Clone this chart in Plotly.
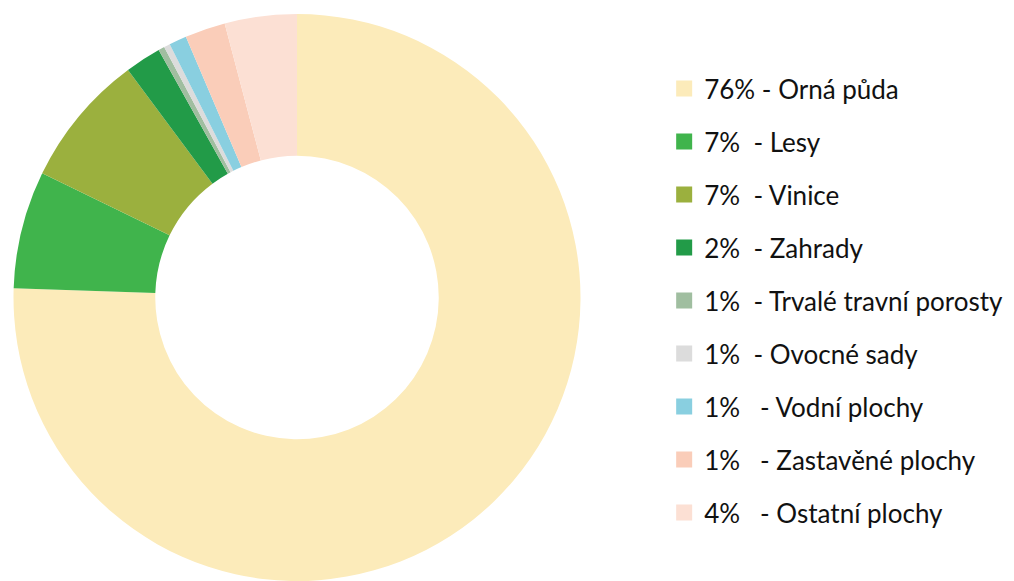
import plotly.graph_objects as go

categories = ["Orná půda", "Lesy", "Vinice", "Zahrady", "Trvalé travní porosty",
              "Ovocné sady", "Vodní plochy", "Zastavěné plochy", "Ostatní plochy"]
values = [75.4, 6.7, 7.6, 2.05, 0.35, 0.35, 1.0, 2.3, 4.1]
legend_labels = ["76% - Orná půda", "7%\u00a0 - Lesy", "7%\u00a0 - Vinice", "2%\u00a0 - Zahrady",
                 "1%\u00a0 - Trvalé travní porosty", "1%\u00a0 - Ovocné sady",
                 "1%\u00a0\u00a0 - Vodní plochy", "1%\u00a0\u00a0 - Zastavěné plochy",
                 "4%\u00a0\u00a0 - Ostatní plochy"]
colors = ["#FCEBBA", "#40B44C", "#9BB03E", "#229B48", "#A0BEA0",
          "#DCDCDC", "#89CFE0", "#FACDB9", "#FCE0D4"]

W, H = 1014, 581
fig = go.Figure()
fig.add_trace(go.Pie(
    labels=categories, values=values, hole=0.5, sort=False,
    direction="clockwise", rotation=0,
    marker=dict(colors=colors, line=dict(width=0)),
    textinfo="none", showlegend=False,
    domain=dict(x=[13/W, 581/W], y=[0, 1]),
))
for i, (lab, col) in enumerate(zip(legend_labels, colors)):
    fig.add_trace(go.Scatter(
        x=[None], y=[None], mode="markers", name=lab,
        marker=dict(symbol="square", size=16, color=col),
        legendgroup=f"g{i}", showlegend=True,
    ))

fig.update_layout(
    width=W, height=H,
    margin=dict(l=0, r=0, t=14, b=0),
    paper_bgcolor="white", plot_bgcolor="white",
    xaxis=dict(visible=False, domain=[0.99, 1]),
    yaxis=dict(visible=False, domain=[0.99, 1]),
    font=dict(family="Lato, 'Open Sans', sans-serif", color="#111111"),
    legend=dict(
        x=0.655, y=0.91, xanchor="left", yanchor="top",
        font=dict(size=26, color="#111111"),
        tracegroupgap=16.2, bgcolor="rgba(0,0,0,0)",
    ),
)
fig.write_html("out.html")
